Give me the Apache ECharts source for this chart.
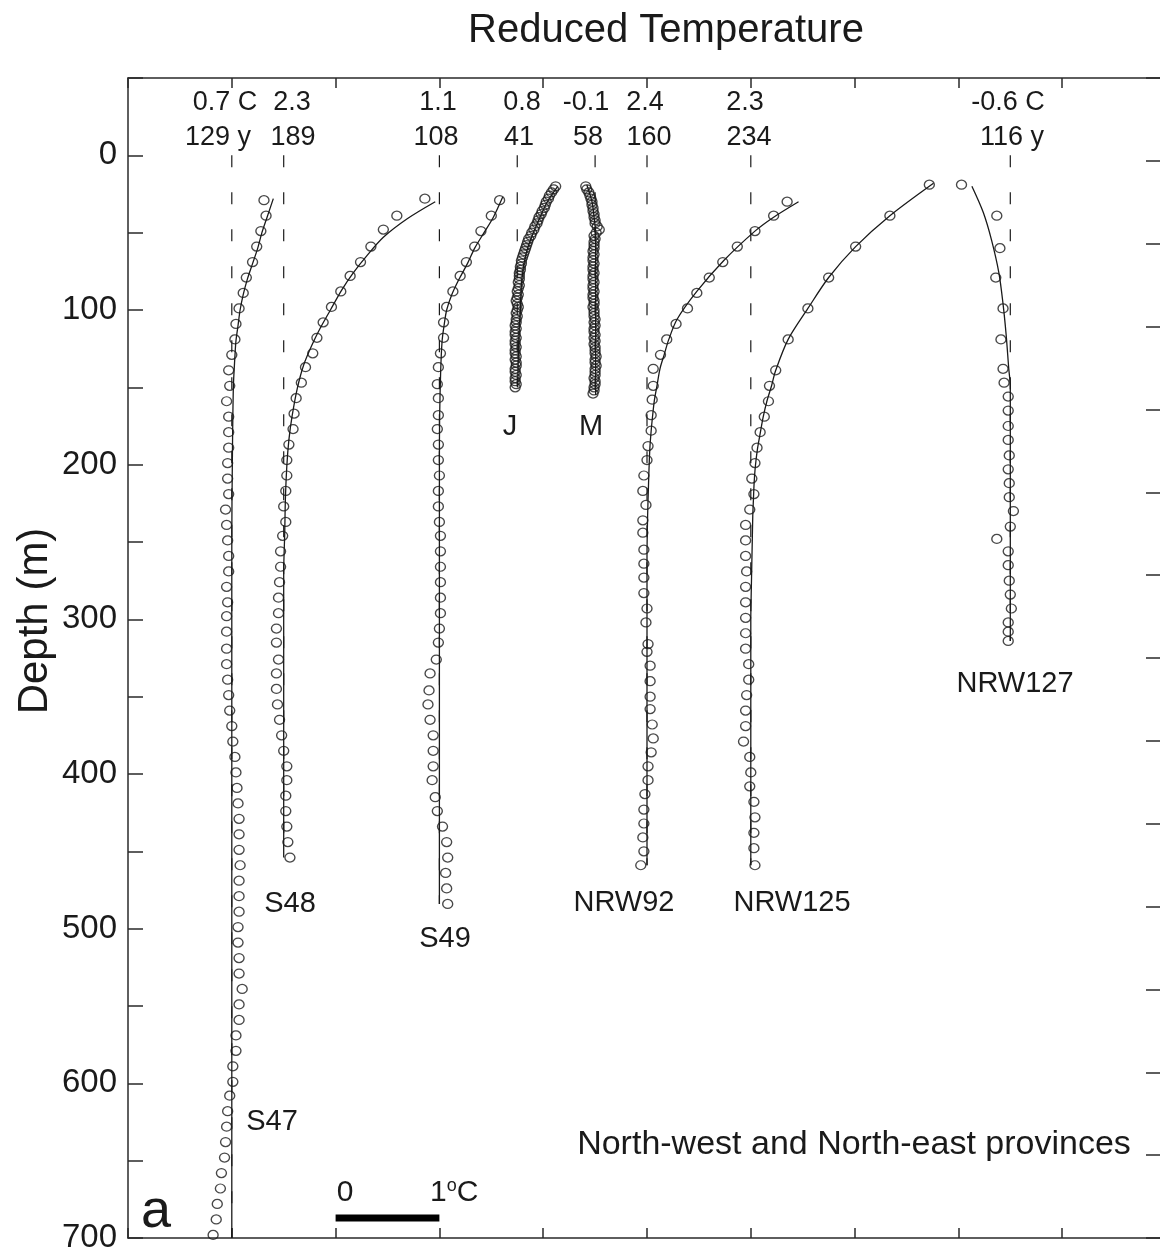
<!DOCTYPE html>
<html>
<head>
<meta charset="utf-8">
<script src="https://cdn.jsdelivr.net/npm/echarts@6/dist/echarts.min.js"></script>
<style>
  html, body { margin: 0; padding: 0; background: #fff; }
  #chart { width: 1160px; height: 1247px; }
</style>
</head>
<body>
<div id="chart"></div>
<script>
// station names, reference temperature and age of the surface warming
const names = ['S47', 'S48', 'S49', 'J', 'M', 'NRW92', 'NRW125', 'NRW127'];
const refTemps = ['0.7 C', '2.3', '1.1', '0.8', '-0.1', '2.4', '2.3', '-0.6 C'];
const ages = ['129 y', '189', '108', '41', '58', '160', '234', '116 y'];
// horizontal shift (degC) of each profile on the plot
const offsets = [1, 1.5, 3, 3.75, 4.5, 5, 6, 8.5];
const depthLabels = [0, 100, 200, 300, 400, 500, 600, 700];

// [depth m, reduced temperature degC]
const s47Obs = [[29,0.31],[39,0.33],[49,0.28],[59,0.24],[69,0.20],[79,0.14],[89,0.11],[99,0.07],[109,0.04],[119,0.03],
  [129,0.00],[139,-0.03],[149,-0.02],[159,-0.05],[169,-0.03],[179,-0.03],[189,-0.03],[199,-0.04],[209,-0.04],[219,-0.03],
  [229,-0.06],[239,-0.05],[249,-0.04],[259,-0.03],[269,-0.03],[279,-0.05],[289,-0.04],[298,-0.05],[308,-0.05],[319,-0.05],
  [329,-0.05],[339,-0.04],[349,-0.03],[359,-0.02],[369,0.00],[379,0.01],[389,0.03],[399,0.04],[409,0.05],[419,0.06],
  [429,0.07],[439,0.07],[449,0.07],[459,0.08],[469,0.07],[479,0.07],[489,0.07],[499,0.06],[509,0.06],[519,0.07],
  [529,0.07],[539,0.10],[549,0.07],[559,0.07],[569,0.04],[579,0.04],[589,0.01],[599,0.01],[608,-0.02],[618,-0.04],
  [628,-0.05],[638,-0.06],[648,-0.07],[658,-0.10],[668,-0.11],[678,-0.14],[688,-0.15],[698,-0.18]];
const s47Fit = [[28,0.40],[40,0.34],[50,0.29],[60,0.25],[70,0.20],[80,0.15],[90,0.11],[100,0.08],[110,0.06],[120,0.04],
  [130,0.03],[150,0.015],[200,0.005],[250,0],[700,0]];

const s48Obs = [[28,1.36],[39,1.09],[48,0.96],[59,0.84],[69,0.74],[78,0.64],[88,0.55],[98,0.46],[108,0.38],[118,0.32],
  [128,0.28],[137,0.21],[147,0.17],[157,0.12],[167,0.10],[177,0.09],[187,0.05],[197,0.03],[207,0.03],[217,0.02],
  [227,0.00],[237,0.02],[246,-0.01],[256,-0.03],[266,-0.03],[276,-0.04],[286,-0.05],[296,-0.05],[306,-0.07],[315,-0.07],
  [326,-0.05],[335,-0.07],[345,-0.07],[355,-0.06],[365,-0.04],[375,-0.02],[385,0.00],[395,0.03],[404,0.03],[414,0.02],
  [424,0.02],[434,0.03],[444,0.04],[454,0.06]];
const s48Fit = [[30,1.46],[41,1.19],[53,0.96],[65,0.80],[76,0.67],[87,0.56],[100,0.45],[112,0.35],[123,0.27],[136,0.19],
  [151,0.13],[169,0.08],[184,0.05],[201,0.03],[223,0.016],[244,0.01],[270,0],[454,0]];

const s49Obs = [[29,0.58],[39,0.50],[49,0.40],[59,0.34],[69,0.26],[78,0.20],[88,0.13],[98,0.07],[108,0.04],[118,0.04],
  [128,0.01],[137,-0.01],[148,-0.02],[157,-0.01],[168,-0.01],[177,-0.02],[187,-0.01],[197,-0.01],[207,0.00],[217,-0.01],
  [227,-0.01],[237,0.00],[246,0.01],[256,0.01],[266,0.01],[276,0.01],[286,0.01],[296,0.01],[306,0.00],[315,-0.01],
  [326,-0.03],[335,-0.09],[346,-0.10],[355,-0.11],[365,-0.09],[375,-0.06],[385,-0.06],[395,-0.06],[404,-0.07],[415,-0.04],
  [424,-0.02],[434,0.03],[444,0.07],[454,0.08],[464,0.06],[474,0.07],[484,0.08]];
const s49Fit = [[27,0.61],[40,0.52],[50,0.43],[60,0.34],[70,0.27],[80,0.19],[90,0.12],[100,0.07],[110,0.045],[120,0.026],
  [140,0.012],[170,0.002],[200,0],[484,0]];

const jObs = [[20,0.37],[22,0.35],[24,0.33],[26,0.31],[28,0.30],[30,0.28],[32,0.27],[34,0.26],[36,0.24],[38,0.23],
  [40,0.21],[42,0.20],[44,0.19],[46,0.17],[48,0.16],[50,0.14],[52,0.13],[54,0.11],[56,0.10],[58,0.09],
  [60,0.08],[62,0.07],[64,0.06],[66,0.05],[68,0.04],[70,0.04],[72,0.03],[74,0.03],[76,0.02],[78,0.02],
  [80,0.02],[82,0.01],[84,0.02],[86,0.01],[88,0.00],[90,0.01],[92,0.00],[94,-0.01],[96,0.00],[98,0.01],
  [100,0.00],[102,-0.01],[104,0.00],[106,-0.01],[108,-0.01],[110,-0.02],[112,-0.01],[114,-0.02],[116,-0.02],[118,-0.01],
  [120,-0.02],[122,-0.02],[124,-0.01],[126,-0.02],[128,-0.02],[130,-0.01],[132,-0.02],[134,-0.01],[136,-0.01],[138,-0.02],
  [140,-0.02],[142,-0.01],[144,-0.02],[146,-0.02],[148,-0.01],[150,-0.02]];
const jFit = [[20,0.39],[30,0.29],[40,0.22],[50,0.155],[60,0.10],[70,0.065],[80,0.045],[90,0.035],[100,0.03],[110,0.02],
  [130,0.01],[150,0.005]];

const mObs = [[20,-0.09],[22,-0.08],[24,-0.06],[26,-0.05],[28,-0.04],[30,-0.03],[32,-0.03],[34,-0.02],[36,-0.02],[38,-0.01],
  [40,-0.01],[42,0.00],[44,0.00],[46,0.02],[48,0.04],[50,0.01],[52,-0.01],[54,0.00],[56,-0.01],[58,-0.01],
  [60,-0.01],[62,-0.02],[64,-0.01],[66,-0.02],[68,-0.02],[70,-0.01],[72,-0.02],[74,-0.02],[76,-0.01],[78,-0.02],
  [80,-0.02],[82,-0.01],[84,-0.02],[86,-0.02],[88,-0.01],[90,-0.02],[92,-0.02],[94,-0.01],[96,-0.01],[98,-0.02],
  [100,-0.01],[102,-0.01],[104,-0.01],[106,0.00],[108,-0.01],[110,0.00],[112,-0.01],[114,-0.01],[116,0.00],[118,-0.01],
  [120,0.00],[122,-0.01],[124,0.00],[126,0.00],[128,0.00],[130,0.01],[132,0.00],[134,0.00],[136,0.01],[138,0.00],
  [140,0.00],[142,0.00],[144,-0.01],[146,0.00],[148,0.00],[150,-0.01],[152,-0.01],[154,-0.02]];
const mFit = [[19,-0.08],[30,-0.03],[40,-0.01],[50,0.005],[155,0.005]];

const nrw92Obs = [[30,1.35],[39,1.22],[49,1.04],[59,0.87],[69,0.73],[79,0.60],[89,0.48],[99,0.39],[109,0.28],[119,0.19],
  [129,0.13],[138,0.06],[149,0.06],[158,0.05],[168,0.04],[178,0.04],[188,0.01],[197,0.00],[207,-0.03],[217,-0.04],
  [226,-0.01],[236,-0.04],[244,-0.04],[255,-0.03],[264,-0.03],[273,-0.03],[283,-0.03],[293,0.00],[302,-0.01],[316,0.01],
  [321,0.00],[330,0.03],[340,0.03],[350,0.03],[358,0.03],[368,0.05],[377,0.06],[386,0.04],[395,0.01],[404,0.01],
  [413,-0.02],[423,-0.03],[432,-0.03],[441,-0.04],[450,-0.03],[459,-0.06]];
const nrw92Fit = [[30,1.46],[40,1.22],[49,1.04],[68,0.74],[88,0.48],[106,0.29],[119,0.21],[129,0.165],[138,0.125],[149,0.096],
  [158,0.072],[169,0.053],[179,0.039],[190,0.027],[212,0.015],[233,0.006],[260,0],[459,0]];

const nrw125Obs = [[19,1.72],[39,1.34],[59,1.01],[79,0.75],[99,0.55],[119,0.36],[139,0.24],[149,0.18],[159,0.17],[169,0.13],
  [179,0.09],[189,0.06],[199,0.04],[209,0.01],[219,0.03],[229,-0.01],[239,-0.05],[249,-0.05],[259,-0.05],[269,-0.04],
  [279,-0.05],[289,-0.05],[299,-0.05],[309,-0.05],[319,-0.05],[329,-0.02],[339,-0.02],[349,-0.04],[359,-0.05],[369,-0.05],
  [379,-0.07],[389,-0.01],[399,0.00],[408,-0.01],[418,0.03],[428,0.04],[438,0.03],[448,0.03],[459,0.04]];
const nrw125Fit = [[18,1.76],[39,1.34],[59,1.01],[79,0.75],[99,0.55],[119,0.36],[139,0.24],[149,0.20],[159,0.155],[169,0.12],
  [180,0.09],[190,0.064],[201,0.044],[212,0.032],[223,0.025],[233,0.019],[250,0.014],[280,0.005],[300,0],[459,0]];

const nrw127Obs = [[19,-0.47],[39,-0.13],[60,-0.10],[79,-0.14],[99,-0.07],[119,-0.09],[138,-0.07],[147,-0.06],[156,-0.02],[165,-0.02],
  [175,-0.02],[184,-0.02],[194,-0.01],[203,-0.02],[212,-0.01],[221,-0.01],[230,0.03],[240,0.00],[248,-0.13],[256,-0.02],
  [265,-0.02],[275,-0.01],[284,0.00],[293,0.01],[302,-0.02],[308,-0.02],[314,-0.02]];
const nrw127Fit = [[20,-0.37],[37,-0.26],[55,-0.18],[76,-0.11],[96,-0.07],[116,-0.04],[137,-0.016],[150,0],[314,0]];

// 1 degC scale bar
const scaleBarTemps = [0, 1];

const observations = [s47Obs, s48Obs, s49Obs, jObs, mObs, nrw92Obs, nrw125Obs, nrw127Obs];
const fits = [s47Fit, s48Fit, s49Fit, jFit, mFit, nrw92Fit, nrw125Fit, nrw127Fit];

const ink = '#1a1a1a';
const fontFamily = '"Liberation Sans", Arial, Helvetica, sans-serif';

const chart = echarts.init(document.getElementById('chart'));

const series = [];
names.forEach((nm, i) => {
  const off = offsets[i];
  const fit = fits[i];
  const bottom = fit[fit.length - 1][0];
  // dashed reference temperature
  series.push({
    type: 'line', name: nm + ' ref', data: [[off, 0], [off, bottom]],
    symbol: 'none', silent: true, z: 1,
    lineStyle: { color: ink, width: 1.2, type: [12, 25] }
  });
  // model curve
  series.push({
    type: 'line', name: nm + ' fit', data: fit.map(p => [off + p[1], p[0]]),
    symbol: 'none', smooth: 0.3, silent: true, z: 2,
    lineStyle: { color: ink, width: 1.3 }
  });
  // measured reduced temperatures
  series.push({
    type: 'scatter', name: nm, data: observations[i].map(p => [off + p[1], p[0]]),
    symbol: 'circle', symbolSize: [10, 9], clip: false, silent: true, z: 3,
    itemStyle: { color: 'rgba(0,0,0,0)', borderColor: ink, borderWidth: 1.3 }
  });
});
series.push({
  type: 'line', name: 'scale', data: scaleBarTemps.map(t => [2 + t, 687]),
  symbol: 'none', silent: true, z: 4,
  lineStyle: { color: '#000', width: 7, cap: 'butt' }
});

const txt = (text, x, y, size, extra) => Object.assign({
  type: 'text', x: x, y: y,
  style: { text: text, fill: ink, font: size + 'px ' + fontFamily, textAlign: 'center', textVerticalAlign: 'middle' }
}, extra || {});

const tempX = [225, 292, 438, 522, 586, 645, 745, 1008];
const ageX = [218, 293, 436, 519, 588, 649, 749, 1012];
const namePos = [[272, 1122], [290, 904], [445, 939], [510, 427], [591, 427], [624, 903], [792, 903], [1015, 684]];

const graphics = [
  txt('Reduced Temperature', 666, 31, 40),
  txt('Depth (m)', 35, 621, 42, { rotation: Math.PI / 2 }),
  txt('North-west and North-east provinces', 854, 1145, 34),
  txt('a', 156, 1212, 54),
  txt('0', 345, 1193, 30)
];
refTemps.forEach((t, i) => graphics.push(txt(t, tempX[i], 103, 27)));
ages.forEach((t, i) => graphics.push(txt(t, ageX[i], 138, 27)));
names.forEach((t, i) => graphics.push(txt(t, namePos[i][0], namePos[i][1], 29)));
graphics.push({
  type: 'text', x: 430, y: 1193,
  style: {
    text: '{n|1}{s|o}{n|C}', fill: ink, textAlign: 'left', textVerticalAlign: 'middle',
    rich: {
      n: { fontSize: 30, fontFamily: fontFamily, fill: ink, lineHeight: 32 },
      s: { fontSize: 18, fontFamily: fontFamily, fill: ink, verticalAlign: 'top', lineHeight: 18 }
    }
  }
});

const axisLine = { show: true, onZero: false, lineStyle: { color: '#2a2a2a', width: 1.5 } };
const tick = len => ({ inside: true, length: len, lineStyle: { color: '#2a2a2a', width: 1.5 } });

chart.setOption({
  animation: false,
  grid: { left: 128, top: 78, width: 1038, height: 1160, outerBoundsMode: 'none', containLabel: false },
  xAxis: [
    { type: 'value', position: 'bottom', min: 0, max: 10, interval: 1,
      axisLine: axisLine, axisTick: tick(10), axisLabel: { show: false }, splitLine: { show: false } },
    { type: 'value', position: 'top', min: 0, max: 10, interval: 1,
      axisLine: axisLine, axisTick: tick(10), axisLabel: { show: false }, splitLine: { show: false } }
  ],
  yAxis: [
    { type: 'value', position: 'left', inverse: true, min: -50, max: 700, interval: 50,
      axisLine: axisLine, axisTick: tick(15),
      axisLabel: { margin: 11, fontSize: 33, fontFamily: fontFamily, color: ink,
        formatter: v => depthLabels.includes(v) ? String(v) : '' },
      splitLine: { show: false } },
    { type: 'value', position: 'right', min: 0, max: 14, interval: 1,
      axisLine: axisLine, axisTick: tick(20), axisLabel: { show: false }, splitLine: { show: false } }
  ],
  graphic: graphics,
  series: series
});
</script>
</body>
</html>
